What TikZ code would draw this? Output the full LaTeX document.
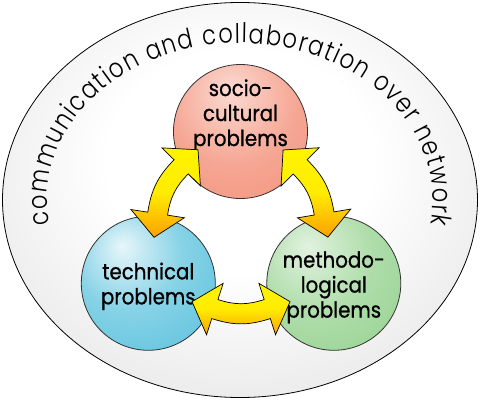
\documentclass[tikz,border=0pt]{standalone}
\usepackage{fontspec}
\setmainfont{Poppins}[FakeStretch=0.9,FakeBold=0.8]
\newfontfamily\ringfont{Poppins Light}[FakeStretch=0.84]
\usepackage{tikz}
\usetikzlibrary{calc,decorations.text}

\definecolor{sociocol}{RGB}{244,150,128}
\definecolor{techcol}{RGB}{96,196,222}
\definecolor{methodcol}{RGB}{154,212,148}
\definecolor{arrorange}{RGB}{252,160,0}
\definecolor{arryellow}{RGB}{255,244,0}

\pgfdeclareradialshading{ringshade}{\pgfpoint{0bp}{6bp}}{color(0bp)=(white); color(14bp)=(white); color(38bp)=(black!12); color(50bp)=(black!26); color(80bp)=(black!26)}
\pgfdeclareradialshading{sociobub}{\pgfpoint{-4bp}{16bp}}{color(0bp)=(sociocol!35!white); color(24bp)=(sociocol!85!white); color(42bp)=(sociocol); color(80bp)=(sociocol)}
\pgfdeclareradialshading{techbub}{\pgfpoint{-10bp}{14bp}}{color(0bp)=(techcol!15!white); color(20bp)=(techcol!75!white); color(40bp)=(techcol); color(80bp)=(techcol)}
\pgfdeclareradialshading{methodbub}{\pgfpoint{-10bp}{14bp}}{color(0bp)=(methodcol!30!white); color(22bp)=(methodcol!80!white); color(40bp)=(methodcol); color(80bp)=(methodcol)}

\newcommand\ringstyle{\ringfont\fontsize{27}{27}\selectfont}

\tikzset{
  bubble/.style={circle,draw=black!80,line width=0.8pt,minimum size=134pt,inner sep=0pt,shading=#1},
  bubtext/.style={align=center,font=\fontsize{22}{25}\selectfont},
  swaparrow/.pic={
    \shadedraw[top color=arryellow,bottom color=arrorange,middle color=yellow!85!orange,draw=black,line width=0.7pt]
      (49,0) -- (34.5,33.1) -- (29.3,16.9) to[bend right=18] (-29.3,16.9) -- (-34.5,33.1) -- (-49,0)
      -- (-17.9,-18.3) -- (-23.1,-2.1) to[bend left=18] (23.1,-2.1) -- (17.9,-18.3) -- cycle;
  }
}

\begin{document}
\begin{tikzpicture}[x=1pt,y=1pt]
\useasboundingbox (0,0) rectangle (480,400);
\coordinate (ring) at (240,200);
\shadedraw[shading=ringshade,draw=black,line width=0.8pt] (ring) ellipse[x radius=237.5,y radius=197.5];
\path[decorate,decoration={text along path,text align=fit to path,
  text={|\ringstyle|communication and collaboration over network}}]
  ($(ring)+(189:193 and 157)$) arc[start angle=189,end angle=-9,x radius=193,y radius=157];

\node[bubble=sociobub,label={[bubtext,yshift=16pt]center:socio-\\cultural\\problems}] (socio) at (240.5,268.5) {};
\node[bubble=techbub,label={[bubtext,yshift=-3pt]center:technical\\problems}] (tech) at (148.3,116.7) {};
\node[bubble=methodbub,label={[bubtext,yshift=-4pt]center:methodo-\\logical\\problems}] (method) at (333.8,116.7) {};

\path ($(tech)+(83:46)$) -- ($(socio)+(203:46)$) pic[pos=.5,sloped,allow upside down] {swaparrow};
\path ($(socio)+(337:46)$) -- ($(method)+(97:46)$) pic[pos=.5,sloped,allow upside down] {swaparrow};
\path ($(method)+(203:47)$) -- ($(tech)+(337:47)$) pic[pos=.5,sloped,allow upside down] {swaparrow};
\end{tikzpicture}
\end{document}
